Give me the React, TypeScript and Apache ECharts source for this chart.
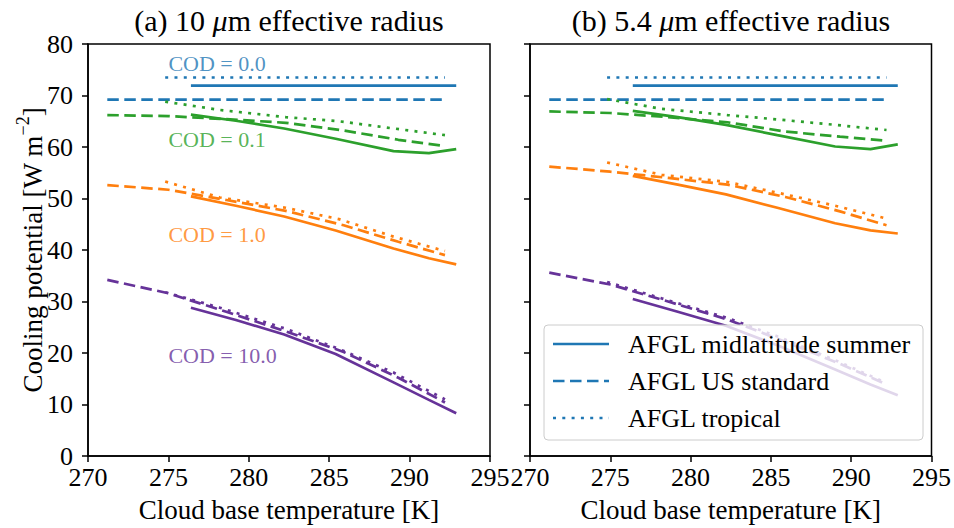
import React, { useEffect, useRef } from "react";
import * as echarts from "echarts";

// Cloud base temperatures [K] for each atmosphere profile
const T_MLS = [276.4, 279.2, 282.2, 285.4, 289.0, 291.2, 292.9];
const T_US = [271.2, 275.0, 278.6, 282.3, 285.9, 289.3, 292.2];
const T_TROP = [274.8, 278.2, 282.3, 285.6, 289.0, 292.2];

// (a) 10 um effective radius
const A_MLS_COD0 = [71.9, 71.9, 71.9, 71.9, 71.9, 71.9, 71.9];
const A_MLS_COD01 = [66.3, 65.1, 63.6, 61.6, 59.2, 58.8, 59.6];
const A_MLS_COD1 = [50.4, 48.6, 46.5, 43.8, 40.3, 38.4, 37.2];
const A_MLS_COD10 = [28.8, 26.4, 23.6, 19.8, 14.3, 10.9, 8.3];
const A_US_COD0 = [69.2, 69.2, 69.2, 69.2, 69.2, 69.2, 69.2];
const A_US_COD01 = [66.2, 66.0, 65.4, 64.7, 63.2, 61.4, 60.2];
const A_US_COD1 = [52.6, 51.7, 49.7, 47.6, 44.8, 41.6, 39.0];
const A_US_COD10 = [34.2, 31.6, 28.0, 24.2, 20.2, 15.2, 10.4];
const A_TROP_COD0 = [73.5, 73.5, 73.5, 73.5, 73.5, 73.5];
const A_TROP_COD01 = [68.8, 67.2, 65.8, 65.0, 63.6, 62.3];
const A_TROP_COD1 = [53.3, 50.2, 48.2, 46.0, 42.6, 39.8];
const A_TROP_COD10 = [31.8, 28.8, 24.7, 20.8, 16.2, 11.0];

// (b) 5.4 um effective radius
const B_MLS_COD0 = [71.9, 71.9, 71.9, 71.9, 71.9, 71.9, 71.9];
const B_MLS_COD01 = [67.0, 65.8, 64.3, 62.3, 60.1, 59.6, 60.5];
const B_MLS_COD1 = [54.4, 52.7, 50.8, 48.2, 45.2, 43.8, 43.2];
const B_MLS_COD10 = [30.5, 28.0, 25.3, 21.5, 16.8, 13.9, 11.8];
const B_US_COD0 = [69.2, 69.2, 69.2, 69.2, 69.2, 69.2, 69.2];
const B_US_COD01 = [66.9, 66.6, 65.8, 64.8, 63.0, 62.0, 61.2];
const B_US_COD1 = [56.2, 55.2, 54.0, 52.7, 50.3, 47.5, 44.8];
const B_US_COD10 = [35.6, 33.3, 30.0, 26.5, 22.2, 17.9, 13.9];
const B_TROP_COD0 = [73.5, 73.5, 73.5, 73.5, 73.5, 73.5];
const B_TROP_COD01 = [69.3, 67.4, 66.2, 65.3, 64.3, 63.3];
const B_TROP_COD1 = [57.0, 54.6, 53.2, 51.0, 48.6, 46.1];
const B_TROP_COD10 = [33.8, 30.6, 26.8, 23.0, 18.6, 14.2];

const COD_NAMES = ["COD = 0.0", "COD = 0.1", "COD = 1.0", "COD = 10.0"];
const COD_LABEL_X = [275.0, 275.0, 275.0, 275.0];
const COD_LABEL_Y = [76.3, 61.4, 43.1, 19.6];
const PROFILE_NAMES = ["AFGL midlatitude summer", "AFGL US standard", "AFGL tropical"];
const PANEL_TITLES = ["(a) 10 ", "(b) 5.4 "];

const COLORS = ["#1f77b4", "#2ca02c", "#ff7f0e", "#663399"];
const DASHES: any[] = ["solid", [11.5, 5.5], [3, 6.3]];
const FONT = "'Liberation Serif', 'Times New Roman', serif";
const FS = 26;

export default function App() {
  const ref = useRef<HTMLDivElement>(null);
  useEffect(() => {
    if (!ref.current) return;
    const chart = echarts.init(ref.current, undefined, { renderer: "svg" });

    const panels = [
      {
        temps: [T_MLS, T_US, T_TROP],
        vals: [
          [A_MLS_COD0, A_MLS_COD01, A_MLS_COD1, A_MLS_COD10],
          [A_US_COD0, A_US_COD01, A_US_COD1, A_US_COD10],
          [A_TROP_COD0, A_TROP_COD01, A_TROP_COD1, A_TROP_COD10],
        ],
      },
      {
        temps: [T_MLS, T_US, T_TROP],
        vals: [
          [B_MLS_COD0, B_MLS_COD01, B_MLS_COD1, B_MLS_COD10],
          [B_US_COD0, B_US_COD01, B_US_COD1, B_US_COD10],
          [B_TROP_COD0, B_TROP_COD01, B_TROP_COD1, B_TROP_COD10],
        ],
      },
    ];

    const series: any[] = [];
    panels.forEach((p, pi) => {
      p.vals.forEach((prof, ri) => {
        prof.forEach((vals, ci) => {
          series.push({
            type: "line",
            name: `p${pi}-${ri}-${ci}`,
            xAxisIndex: pi,
            yAxisIndex: pi,
            symbol: "none",
            silent: true,
            data: p.temps[ri].map((t, i) => [t, vals[i]]),
            lineStyle: { color: COLORS[ci], width: 2.7, type: DASHES[ri], cap: "butt" },
            itemStyle: { color: COLORS[ci] },
            z: 2,
          });
        });
      });
    });

    // COD annotations (left panel)
    COD_NAMES.forEach((nm, i) => {
      series.push({
        type: "scatter",
        name: `lab-${i}`,
        xAxisIndex: 0,
        yAxisIndex: 0,
        symbolSize: 0,
        silent: true,
        data: [[COD_LABEL_X[i], COD_LABEL_Y[i]]],
        label: {
          show: true,
          position: "right",
          distance: 0,
          formatter: nm,
          color: COLORS[i],
          fontSize: 22,
          fontFamily: FONT,
        },
        z: 3,
      });
    });

    const grids = [
      { left: 88, top: 44, width: 402, height: 412 },
      { left: 530, top: 44, width: 402, height: 412 },
    ];

    const axisLineStyle = { color: "#000", width: 1.5 };

    // legend box (drawn in the right panel, like matplotlib's legend)
    const LG = { x: 544, y: 325, w: 379, h: 115, row0: 344, rowGap: 37 };
    const legendGraphics: any[] = [
      {
        type: "rect",
        z: 100,
        silent: true,
        shape: { x: LG.x, y: LG.y, width: LG.w, height: LG.h, r: 4 },
        style: { fill: "rgba(255,255,255,0.8)", stroke: "#cccccc", lineWidth: 1 },
      },
    ];
    PROFILE_NAMES.forEach((nm, ri) => {
      const yy = LG.row0 + ri * LG.rowGap;
      legendGraphics.push({
        type: "line",
        z: 101,
        silent: true,
        shape: { x1: 553, y1: yy, x2: 609, y2: yy },
        style: {
          stroke: COLORS[0],
          lineWidth: 2.7,
          lineDash: DASHES[ri] === "solid" ? null : DASHES[ri],
          lineCap: "butt",
        },
      });
      legendGraphics.push({
        type: "text",
        z: 101,
        silent: true,
        x: 628,
        y: yy,
        style: {
          text: nm,
          fill: "#000",
          fontSize: FS,
          fontFamily: FONT,
          align: "left",
          verticalAlign: "middle",
        },
      });
    });

    chart.setOption({
      animation: false,
      grid: grids.map((g) => ({ ...g, show: true, borderColor: "#000", borderWidth: 1.5, containLabel: false })),
      xAxis: grids.map((_, i) => ({
        type: "value",
        gridIndex: i,
        min: 270,
        max: 295,
        interval: 5,
        axisLine: { show: true, onZero: false, lineStyle: axisLineStyle },
        axisTick: { show: true, length: 6, lineStyle: axisLineStyle },
        axisLabel: { show: true, color: "#000", fontSize: FS, fontFamily: FONT, margin: 11, lineHeight: 20 },
        splitLine: { show: false },
        name: "Cloud base temperature [K]",
        nameLocation: "middle",
        nameGap: 40,
        nameTextStyle: { color: "#000", fontSize: 27, fontFamily: FONT },
      })),
      yAxis: grids.map((_, i) => ({
        type: "value",
        gridIndex: i,
        min: 0,
        max: 80,
        interval: 10,
        axisLine: { show: true, onZero: false, lineStyle: axisLineStyle },
        axisTick: { show: true, length: 6, lineStyle: axisLineStyle },
        axisLabel: { show: i === 0, color: "#000", fontSize: FS, fontFamily: FONT, margin: 15, lineHeight: 20 },
        splitLine: { show: false },
      })),
      graphic: [
        ...PANEL_TITLES.map((t, i) => ({
          type: "text",
          x: grids[i].left + grids[i].width / 2,
          y: 20,
          silent: true,
          style: {
            text: `${t}{i|μ}m effective radius`,
            fill: "#000",
            fontSize: 30,
            fontFamily: FONT,
            align: "center",
            verticalAlign: "middle",
            rich: { i: { fontStyle: "italic", fontSize: 30, fontFamily: FONT, fill: "#000" } },
          },
        })),
        {
          type: "text",
          x: 30,
          y: 250,
          rotation: Math.PI / 2,
          silent: true,
          style: {
            text: "{a|Cooling potential [W m}{s|−2}{a|]}",
            fill: "#000",
            align: "center",
            verticalAlign: "middle",
            rich: {
              a: { fontSize: 27, fontFamily: FONT, fill: "#000", lineHeight: 32, verticalAlign: "bottom" },
              s: { fontSize: 18, fontFamily: FONT, fill: "#000", lineHeight: 18, verticalAlign: "top" },
            },
          },
        },
        ...legendGraphics,
      ],
      series,
    });

    return () => chart.dispose();
  }, []);

  return (
    <div
      ref={ref}
      style={{ position: "absolute", left: 0, top: 0, width: 954, height: 528, background: "#fff" }}
    />
  );
}
